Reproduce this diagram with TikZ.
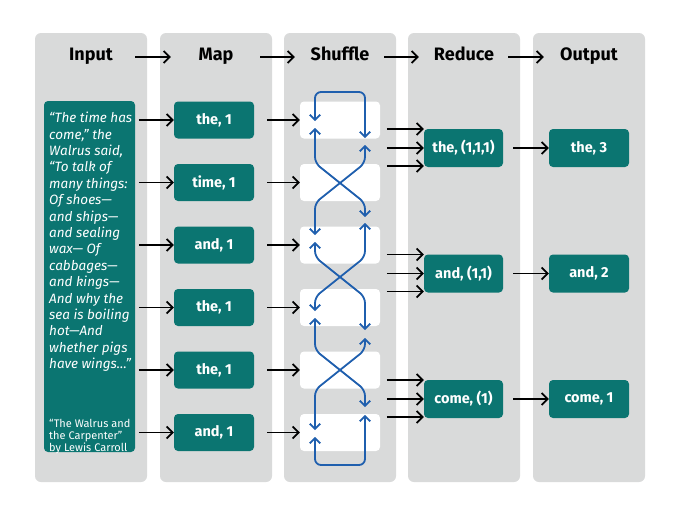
\documentclass[tikz,border=0pt]{standalone}
\usepackage{fontspec}
\setmainfont{Fira Sans}
\usetikzlibrary{arrows.meta,calc}
\definecolor{mrteal}{HTML}{0B7571}
\definecolor{mrgray}{HTML}{D9DADA}
\definecolor{mrblue}{HTML}{1F5FAE}
\begin{document}
\begin{tikzpicture}[x=1pt,y=-1pt,
  col/.style={fill=mrgray, rounded corners=6pt, minimum width=112pt, minimum height=449pt, inner sep=0pt},
  hdr/.style={font=\bfseries\fontsize{18}{20}\selectfont, text=black, inner sep=0pt, anchor=base},
  tbox/.style={fill=mrteal, rounded corners=4pt, text=white, font=\bfseries\fontsize{14.5}{16}\selectfont, minimum width=80pt, minimum height=37pt, inner sep=0pt},
  wbox/.style={fill=white, rounded corners=4pt, minimum width=80pt, minimum height=37pt, inner sep=0pt},
  blk/.style={line width=1.7pt, -{Straight Barb[length=6pt,width=12pt]}},
  bl/.style={draw=mrblue, line width=1.8pt, rounded corners=6pt, {Straight Barb[length=5pt,width=10.5pt]}-{Straight Barb[length=5pt,width=10.5pt]}}
]
\useasboundingbox[fill=white] (0,0) rectangle (680,514);
% columns
\node[col] (cI) at (91,257.5) {};
\node[col] (cM) at (216,257.5) {};
\node[col] (cS) at (340,257.5) {};
\node[col] (cR) at (464,257.5) {};
\node[col] (cO) at (589,257.5) {};
% headers
\node[hdr] (hI) at (91,60) {Input};
\node[hdr] (hM) at (216,60) {Map};
\node[hdr] (hS) at (340,60) {Shuffle};
\node[hdr] (hR) at (464,60) {Reduce};
\node[hdr] (hO) at (589,60) {Output};
\foreach \a/\b in {cI/cM,cM/cS,cS/cR,cR/cO}{
  \draw[blk] ([xshift=-12pt]\a.east |- 0,57) -- ([xshift=11pt]\b.west |- 0,57);
}
% input
\node[fill=mrteal, rounded corners=4pt, minimum width=91pt, minimum height=351pt, inner sep=0pt] (inp) at (89.5,276.5) {};
\node[anchor=north west, inner sep=0pt, text=white, align=left, font=\itshape\fontsize{13.5}{16.4}\selectfont] (quote) at (49,112)
{“The time has\\come,” the\\Walrus said,\\“To talk of\\many things:\\Of shoes—\\and ships—\\and sealing\\wax— Of\\cabbages—\\and kings—\\And why the\\sea is boiling\\hot—And\\whether pigs\\have wings…”};
\node[anchor=north west, inner sep=0pt, text=white, align=left, font=\fontsize{11}{11.7}\selectfont] (credit) at (49,419.5)
{“The Walrus and\\the Carpenter”\\by Lewis Carroll};
% map and shuffle boxes
\foreach \i/\y/\t in {1/120/{the, 1},2/182.5/{time, 1},3/245/{and, 1},4/307.5/{the, 1},5/370/{the, 1},6/432.5/{and, 1}}{
  \node[tbox] (m\i) at (214,\y) {\t};
  \node[wbox] (s\i) at (340,\y) {};
  \draw[blk] ([xshift=-35pt]m\i.west) -- (m\i.west);
  \draw[blk] ([xshift=13pt]m\i.east) -- (s\i.west);
}
% reduce and output
\foreach \i/\y/\t/\o in {1/148/{the, (1,1,1)}/{the, 3},2/273.5/{and, (1,1)}/{and, 2},3/399/{come, (1)}/{come, 1}}{
  \node[tbox, minimum width=79pt, minimum height=38pt] (r\i) at (463.5,\y) {\t};
  \node[tbox, minimum height=38pt] (o\i) at (589,\y) {\o};
  \draw[blk] ([xshift=-37pt,yshift=19pt]r\i.west) -- ([yshift=19pt]r\i.west);
  \draw[blk] ([xshift=-37pt]r\i.west) -- (r\i.west);
  \draw[blk] ([xshift=-37pt,yshift=-18pt]r\i.west) -- ([yshift=-18pt]r\i.west);
  \draw[blk] ([xshift=10pt]r\i.east) -- (o\i.west);
}
% shuffle routing
\draw[bl] (315,121) -- (315,92) -- (365,92) -- (365,138);
\draw[bl] (315,128) -- (315,163) -- (365,203) -- (365,217);
\draw[bl] (365,145) -- (365,163) -- (315,203) -- (315,235);
\draw[bl] (315,242) -- (315,257) -- (365,297) -- (365,330);
\draw[bl] (365,223) -- (365,257) -- (315,297) -- (315,311);
\draw[bl] (315,318) -- (315,350) -- (365,390) -- (365,407);
\draw[bl] (365,338) -- (365,350) -- (315,390) -- (315,430);
\draw[bl] (315,437) -- (315,465) -- (365,465) -- (365,415);
\end{tikzpicture}
\end{document}
